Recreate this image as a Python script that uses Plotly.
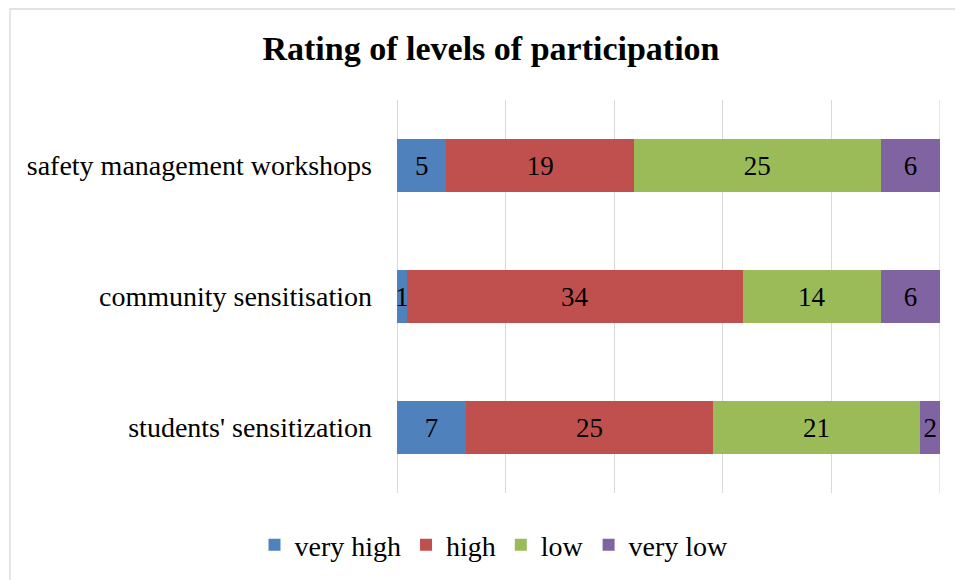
import plotly.graph_objects as go

categories = ["students' sensitization", "community sensitisation", "safety management workshops"]
series_names = ["very high", "high", "low", "very low"]
very_high = [7, 1, 5]
high = [25, 34, 19]
low = [21, 14, 25]
very_low = [2, 6, 6]
colors = ["#4F81BD", "#C0504D", "#9BBB59", "#8064A2"]

FONT = "Liberation Serif, Times New Roman, serif"

W, H = 955, 572
L, R, T, B = 389, 23, 92, 87
PW, PH = W - L - R, H - T - B

fig = go.Figure()
for name, vals, col in zip(series_names, [very_high, high, low, very_low], colors):
    fig.add_trace(go.Bar(
        y=categories, x=vals, name=name, orientation="h",
        marker=dict(color=col, line=dict(width=0)),
        text=[str(v) for v in vals], textposition="inside",
        insidetextanchor="middle",
        textfont=dict(family=FONT, size=27, color="black"),
        hoverinfo="skip",
    ))

fig.update_layout(
    barmode="stack", barnorm="percent", bargap=0.6,
    width=W, height=H,
    margin=dict(l=L, r=R, t=T, b=B),
    paper_bgcolor="white", plot_bgcolor="white",
    font=dict(family=FONT, size=28, color="#000000"),
    title=dict(text="<b>Rating of levels of participation</b>",
               x=483 / W, xanchor="center", y=1 - 40 / H, yanchor="middle",
               font=dict(family=FONT, size=34, color="black")),
    uniformtext=dict(minsize=27, mode="show"),
    xaxis=dict(range=[0, 100], dtick=20, showticklabels=False,
               showgrid=True, gridcolor="#D9D9D9", gridwidth=1.3,
               zeroline=True, zerolinecolor="#D9D9D9", zerolinewidth=1.3,
               showline=False, fixedrange=True),
    yaxis=dict(categoryorder="array", categoryarray=categories,
               showgrid=False, zeroline=False, showline=False,
               ticks="", ticklabelstandoff=24,
               tickfont=dict(family=FONT, size=28, color="#000000")),
    legend=dict(orientation="h", xref="container", x=486 / W, xanchor="center",
                yref="container", y=1 - 537 / H, yanchor="middle",
                font=dict(family=FONT, size=28, color="black"),
                itemwidth=30, traceorder="normal"),
    shapes=[
        dict(type="rect", xref="paper", yref="paper",
             x0=(2 - L) / PW, x1=2.0, y0=-1.0, y1=1 + (T - 1) / PH,
             line=dict(color="#D9D9D9", width=1.3), layer="below"),
        dict(type="line", xref="x", yref="paper", x0=100, x1=100, y0=0, y1=1,
             line=dict(color="#D9D9D9", width=1.3), layer="below"),
    ],
)

fig.write_html("out.html")
